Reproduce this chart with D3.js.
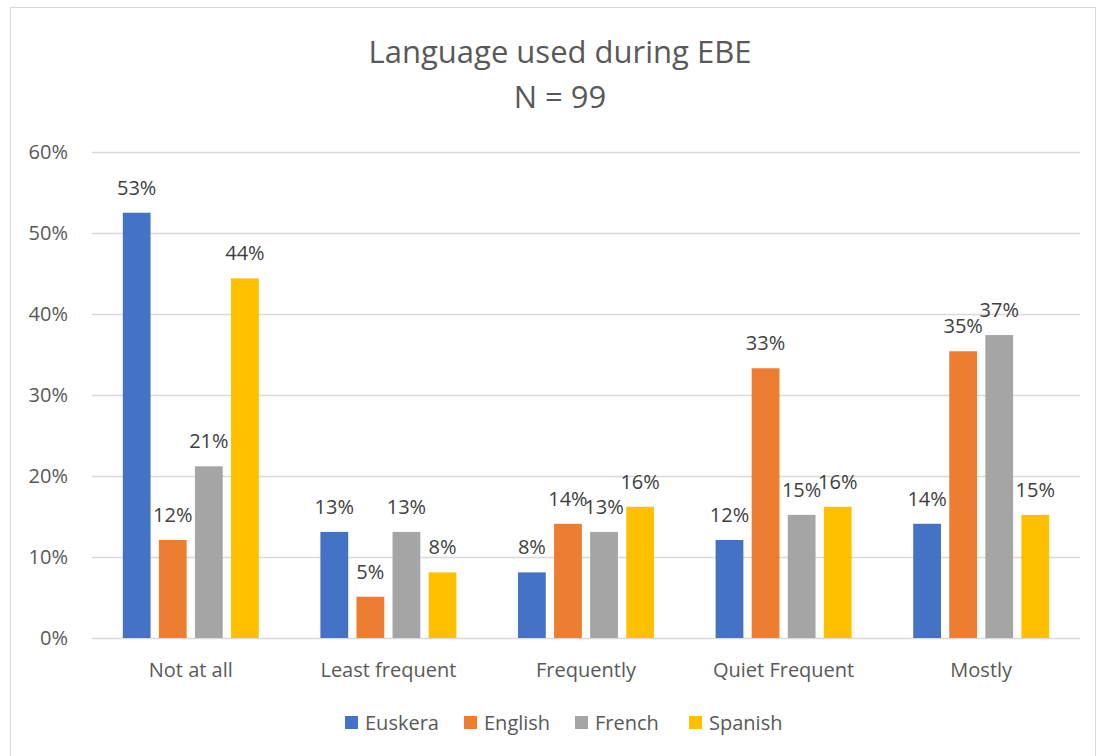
<!DOCTYPE html>
<html>
<head>
<meta charset="utf-8">
<title>Language used during EBE</title>
<style>
    body { margin: 0; background: #fff; }
    svg { font-family: "Open Sans", sans-serif; }
</style>
</head>
<body>
<svg width="1100" height="756"></svg>
<script src="https://d3js.org/d3.v7.min.js"></script>
<script>

    var categories = ["Not at all", "Least frequent", "Frequently", "Quiet Frequent", "Mostly"];
    var languages = ["Euskera", "English", "French", "Spanish"];
    var colors = ["#4472C4", "#ED7D31", "#A5A5A5", "#FFC000"];

    // percent of N = 99 answers
    var euskera = [52.5, 13.1, 8.1, 12.1, 14.1];
    var english = [12.1, 5.1, 14.1, 33.3, 35.4];
    var french  = [21.2, 13.1, 13.1, 15.2, 37.4];
    var spanish = [44.4, 8.1, 16.2, 16.2, 15.2];

    var yTicks = [0, 10, 20, 30, 40, 50, 60];

    var series = [euskera, english, french, spanish];

    var svg = d3.select("svg"),
        width = +svg.attr("width"),
        height = +svg.attr("height");

    var margin = {left: 92, right: 20, top: 152, bottom: 118};
    var fontSize = 20;

    // chart frame
    svg.append("rect")
        .attr("x", 10.5).attr("y", 7.5)
        .attr("width", 1085).attr("height", 760)
        .attr("fill", "#fff")
        .attr("stroke", "#d9d9d9");

    var x = d3.scaleBand()
        .domain(categories)
        .range([margin.left, width - margin.right]);

    var xInner = d3.scaleBand()
        .domain(languages)
        .range([0, 136])
        .paddingInner(0.23);

    var y = d3.scaleLinear()
        .domain([0, 60])
        .range([height - margin.bottom, margin.top]);

    // title
    svg.append("text")
        .attr("x", 560).attr("y", 63)
        .attr("text-anchor", "middle")
        .attr("font-size", 31)
        .attr("fill", "#595959")
        .text("Language used during EBE");
    svg.append("text")
        .attr("x", 560).attr("y", 108)
        .attr("text-anchor", "middle")
        .attr("font-size", 31)
        .attr("fill", "#595959")
        .text("N = 99");

    // gridlines
    svg.append("g")
        .selectAll("line")
        .data(yTicks)
        .enter().append("line")
        .attr("x1", margin.left).attr("x2", width - margin.right)
        .attr("y1", function(d) { return Math.round(y(d)) + 0.5; })
        .attr("y2", function(d) { return Math.round(y(d)) + 0.5; })
        .attr("stroke", "#d9d9d9")
        .attr("stroke-width", 1.3);

    // y axis labels
    var yAxis = d3.axisLeft(y)
        .tickValues(yTicks)
        .tickSize(0)
        .tickPadding(24)
        .tickFormat(function(d) { return d + "%"; });
    var gy = svg.append("g")
        .attr("transform", "translate(" + margin.left + ",0)")
        .call(yAxis);
    gy.select(".domain").remove();
    gy.selectAll("text")
        .attr("font-size", fontSize)
        .attr("font-family", "'Open Sans', sans-serif")
        .attr("fill", "#595959");

    // x axis labels
    var xAxis = d3.axisBottom(x).tickSize(0).tickPadding(0);
    var gx = svg.append("g")
        .attr("transform", "translate(0," + y(0) + ")")
        .call(xAxis);
    gx.select(".domain").remove();
    gx.selectAll("text")
        .attr("y", 39)
        .attr("dy", null)
        .attr("font-size", fontSize)
        .attr("font-family", "'Open Sans', sans-serif")
        .attr("fill", "#595959");

    // bars
    var groups = svg.append("g")
        .selectAll("g")
        .data(categories)
        .enter().append("g")
        .attr("transform", function(d) {
            return "translate(" + (x(d) + x.bandwidth() / 2 - 68) + ",0)";
        });

    function rows(d, i) {
        return languages.map(function(l, j) { return {lang: l, value: series[j][i], k: j}; });
    }

    groups.selectAll("rect")
        .data(rows)
        .enter().append("rect")
        .attr("x", function(d) { return xInner(d.lang); })
        .attr("width", xInner.bandwidth())
        .attr("y", function(d) { return y(d.value); })
        .attr("height", function(d) { return y(0) - y(d.value); })
        .attr("fill", function(d) { return colors[d.k]; });

    groups.selectAll("text")
        .data(rows)
        .enter().append("text")
        .attr("x", function(d) { return xInner(d.lang) + xInner.bandwidth() / 2; })
        .attr("y", function(d) { return y(d.value) - 18; })
        .attr("text-anchor", "middle")
        .attr("font-size", fontSize)
        .attr("fill", "#404040")
        .text(function(d) { return Math.round(d.value) + "%"; });

    // legend
    var legendX = [345, 464, 575, 689];
    var legend = svg.append("g")
        .selectAll("g")
        .data(languages)
        .enter().append("g")
        .attr("transform", function(d, i) { return "translate(" + legendX[i] + ",716)"; });
    legend.append("rect")
        .attr("width", 13).attr("height", 13)
        .attr("fill", function(d, i) { return colors[i]; });
    legend.append("text")
        .attr("x", 20).attr("y", 14)
        .attr("font-size", fontSize)
        .attr("fill", "#595959")
        .text(function(d) { return d; });

</script>
</body>
</html>
